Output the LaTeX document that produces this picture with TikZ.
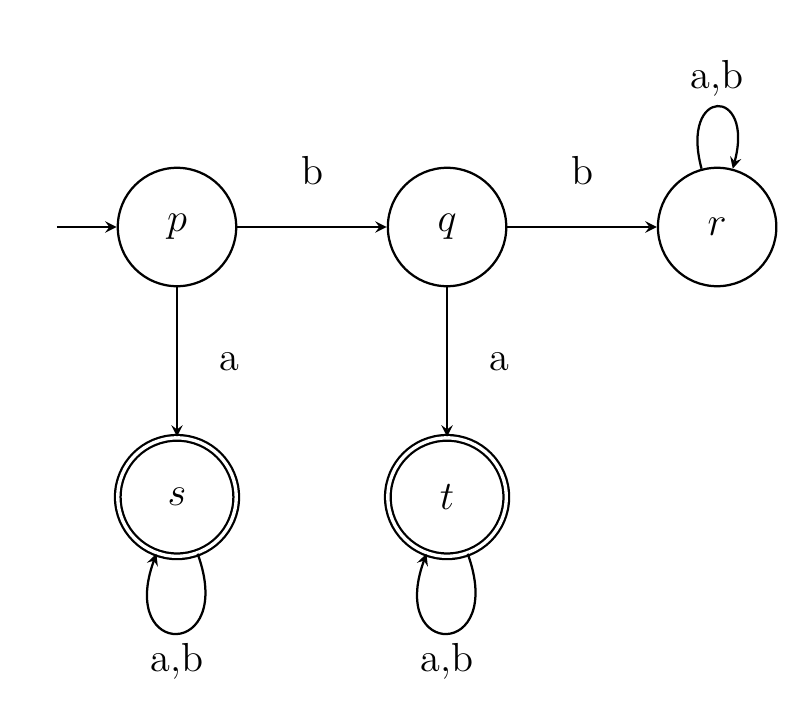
\documentclass[tikz,border=0pt]{standalone}
\usetikzlibrary{arrows,positioning}
\tikzstyle{state}=[draw, circle, thick, minimum size=14.8mm, inner sep=0pt, font=\Large]
\tikzstyle{accepting}=[state, double, double distance=1.2pt]
\tikzstyle{myarrow}=[->, >=stealth, thick]
\tikzstyle{lbl}=[font=\Large]
\begin{document}
\begin{tikzpicture}[x=0.0125cm, y=-0.0125cm, node distance=3.375cm, on grid]
		\useasboundingbox (0,0) rectangle (800,725) ;

		\node[state] (P) at (177,227) {$p$} ;
		\node[state, right=of P] (Q) {$q$} ;
		\node[state, right=of Q] (R) {$r$} ;
		\node[accepting, below=of P] (S) {$s$} ;
		\node[accepting, below=of Q] (T) {$t$} ;

		\coordinate (start) at (57,227) ;
		\draw[myarrow] (start) -- (P) ;

		\draw[myarrow] (P) -- node[lbl, above=4mm] {b} (Q) ;
		\draw[myarrow] (Q) -- node[lbl, above=4mm] {b} (R) ;
		\draw[myarrow] (P) -- node[lbl, right=4mm] {a} (S) ;
		\draw[myarrow] (Q) -- node[lbl, right=4mm] {a} (T) ;

		\draw[myarrow] (R) to[out=105, in=75, looseness=7] node[lbl, above] {a,b} (R) ;
		\draw[myarrow] (S) to[out=-70, in=-110, looseness=7] node[lbl, below] {a,b} (S) ;
		\draw[myarrow] (T) to[out=-70, in=-110, looseness=7] node[lbl, below] {a,b} (T) ;
	\end{tikzpicture}
\end{document}
